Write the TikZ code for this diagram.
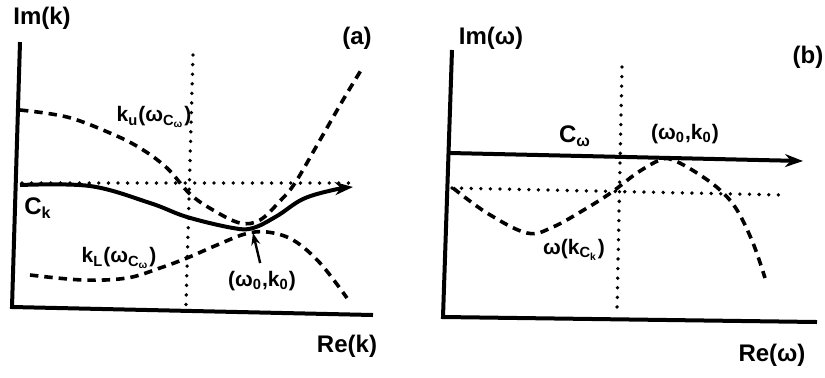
\documentclass[tikz,border=0pt]{standalone}
\usepackage{fontspec}
\setmainfont{Liberation Sans}
\usetikzlibrary{arrows.meta}
\tikzset{
  tengely/.style={line width=2pt,line join=miter},
  pontoz/.style={line width=1.9pt,line cap=round,dash pattern=on 0pt off 4.8pt},
  szagg/.style={line width=1.8pt,dash pattern=on 4.2pt off 3pt},
  gorbe/.style={line width=2pt,-{Stealth[length=9pt,width=6.5pt]}},
  nyil/.style={line width=1.2pt,-{Stealth[length=6pt,width=4.5pt]}},
  cimke/.style={inner sep=0pt,font=\bfseries\fontsize{10.5}{13}\selectfont},
  tcim/.style={inner sep=0pt,font=\bfseries\fontsize{12}{15}\selectfont},
}

\begin{document}
\begin{tikzpicture}[x=0.5pt,y=-0.5pt]
  \useasboundingbox (0,0) rectangle (825,377);
  % (a)
  \draw[tengely] (20,42) -- (12,307) -- (373,315);
  \draw[pontoz] (193,55) -- (186,305);
  \draw[pontoz] (22,183) -- (355,183);
  \draw[szagg] plot[smooth,tension=0.6] coordinates {(20,110) (67,117) (110,133) (140,148)
    (167,168) (190,194) (213,210) (240,223) (260,220) (280,201) (295,183) (320,140)
    (343,100) (363,67)};
  \draw[szagg] plot[smooth,tension=0.6] coordinates {(30,275) (83,280) (127,278) (160,268)
    (187,258) (217,245) (245,234) (267,232) (293,240) (320,263) (347,298)};
  \draw[gorbe] plot[smooth,tension=0.6] coordinates {(20,185) (90,186) (150,203) (187,217)
    (233,228) (253,228) (277,216) (303,199) (333,190) (353,187)};
  \coordinate (sa) at (253,233);
  \node[tcim] (imk) at (42,18) {Im(k)};
  \node[tcim] (pa) at (357,38) {(a)};
  \node[tcim] (rek) at (347,346) {Re(k)};
  \node[cimke] (ku) at (154,117) {k\textsubscript{u}(ω\textsubscript{C\textsubscript{ω}})};
  \node[cimke] (kl) at (119,258) {k\textsubscript{L}(ω\textsubscript{C\textsubscript{ω}})};
  \node[tcim] (ck) at (38,208) {C\textsubscript{k}};
  \node[cimke] (w0a) at (262,281) {(ω\textsubscript{0},k\textsubscript{0})};
  \draw[nyil,shorten <=4pt] (w0a.north) -- (sa);
  % (b)
  \draw[tengely] (452,50) -- (443,317) -- (817,322);
  \draw[pontoz] (622,67) -- (617,312);
  \draw[pontoz] (452,188) -- (783,195);
  \draw[szagg] plot[smooth,tension=0.6] coordinates {(453,188) (487,213) (527,233) (553,227)
    (587,208) (612,192) (637,173) (660,160) (673,160) (697,173) (720,190) (737,210)
    (753,243) (765,278)};
  \draw[gorbe] (450,153) -- (803,161);
  \node[tcim] (imw) at (491,38) {Im(ω)};
  \node[tcim] (pb) at (808,57) {(b)};
  \node[tcim] (rew) at (772,355) {Re(ω)};
  \node[tcim] (cw) at (575,136) {C\textsubscript{ω}};
  \node[cimke] (w0b) at (685,134) {(ω\textsubscript{0},k\textsubscript{0})};
  \node[cimke] (wk) at (574,250) {ω(k\textsubscript{C\textsubscript{k}})};
\end{tikzpicture}
\end{document}
